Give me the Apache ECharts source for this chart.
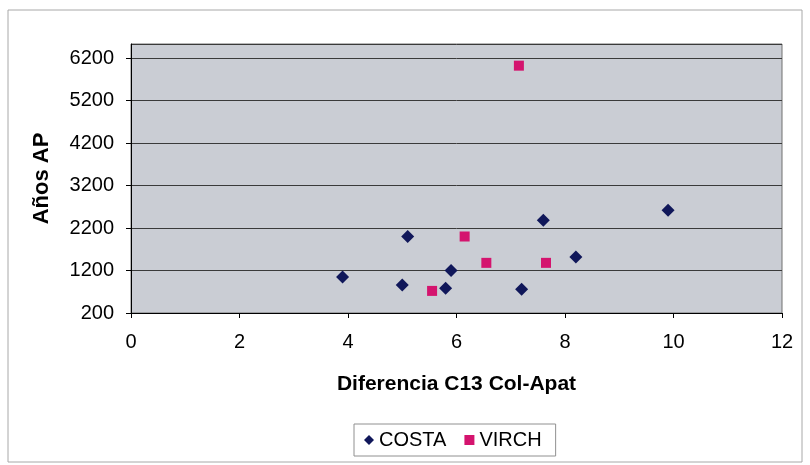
<!DOCTYPE html>
<html><head><meta charset="utf-8">
<script src="https://cdn.jsdelivr.net/npm/echarts@6/dist/echarts.min.js"></script>
<style>html,body{margin:0;padding:0;background:#fff}#c{width:810px;height:465px}</style>
</head><body><div id="c"></div>
<script>
var costaX = [3.9, 5.1, 5.0, 5.9, 5.8, 7.2, 7.6, 8.2, 9.9];
var costaY = [1050, 2000, 860, 1200, 780, 760, 2380, 1520, 2620];
var virchX = [6.15, 6.55, 7.65, 5.55, 7.15];
var virchY = [2000, 1380, 1380, 720, 6020];
var seriesNames = ['COSTA', 'VIRCH'];
var xTitle = 'Diferencia C13 Col-Apat';
var yTitle = 'Años AP';

function pairs(xs, ys){ return xs.map(function(x,i){ return [x, ys[i]]; }); }
var font = 'Liberation Sans, Arial, sans-serif';
var chart = echarts.init(document.getElementById('c'));
chart.setOption({
  animation: false,
  backgroundColor: '#fff',
  graphic: [{type:'rect', shape:{x:8,y:10,width:794,height:452}, style:{fill:'none', stroke:'#a8a8a8', lineWidth:1}, z:-10}],
  grid: {left:131, right:28, top:44, bottom:152, show:true, backgroundColor:'#cacdd4', borderColor:'#707070', borderWidth:1},
  legend: {
    top: 424, left: 354, itemGap: 18, itemWidth: 10, itemHeight: 10,
    borderColor:'#909090', borderWidth:1, padding:[6,14,6,10],
    textStyle:{fontFamily:font, fontSize:20, color:'#000'},
    data: seriesNames
  },
  xAxis: {
    type:'value', min:0, max:12, interval:2,
    name: xTitle, nameLocation:'middle', nameGap:61,
    nameTextStyle:{fontFamily:font, fontSize:21, fontWeight:'bold', color:'#000'},
    axisLine:{onZero:false, lineStyle:{color:'#000'}},
    axisTick:{show:true, length:5, inside:false, lineStyle:{color:'#000'}},
    axisLabel:{fontFamily:font, fontSize:20, color:'#000', margin:19},
    splitLine:{show:false}
  },
  yAxis: {
    type:'value', min:200, max:6530, interval:1000,
    name: yTitle, nameLocation:'middle', nameGap:78, nameRotate:90,
    nameTextStyle:{fontFamily:font, fontSize:22, fontWeight:'bold', color:'#000'},
    axisLine:{show:true, lineStyle:{color:'#000'}},
    axisTick:{show:true, length:5, lineStyle:{color:'#000'}},
    axisLabel:{fontFamily:font, fontSize:20, color:'#000', margin:17, showMaxLabel:false,
      formatter:function(v){ return String(v); }},
    splitLine:{show:true, lineStyle:{color:'#3a3a3a', width:1}}
  },
  series: [
    {name:seriesNames[0], type:'scatter', symbol:'diamond', symbolSize:13, itemStyle:{color:'#10175a', opacity:1}, data:pairs(costaX, costaY)},
    {name:seriesNames[1], type:'scatter', symbol:'rect', symbolSize:10, itemStyle:{color:'#d4146e', opacity:1}, data:pairs(virchX, virchY)}
  ]
});
</script></body></html>
